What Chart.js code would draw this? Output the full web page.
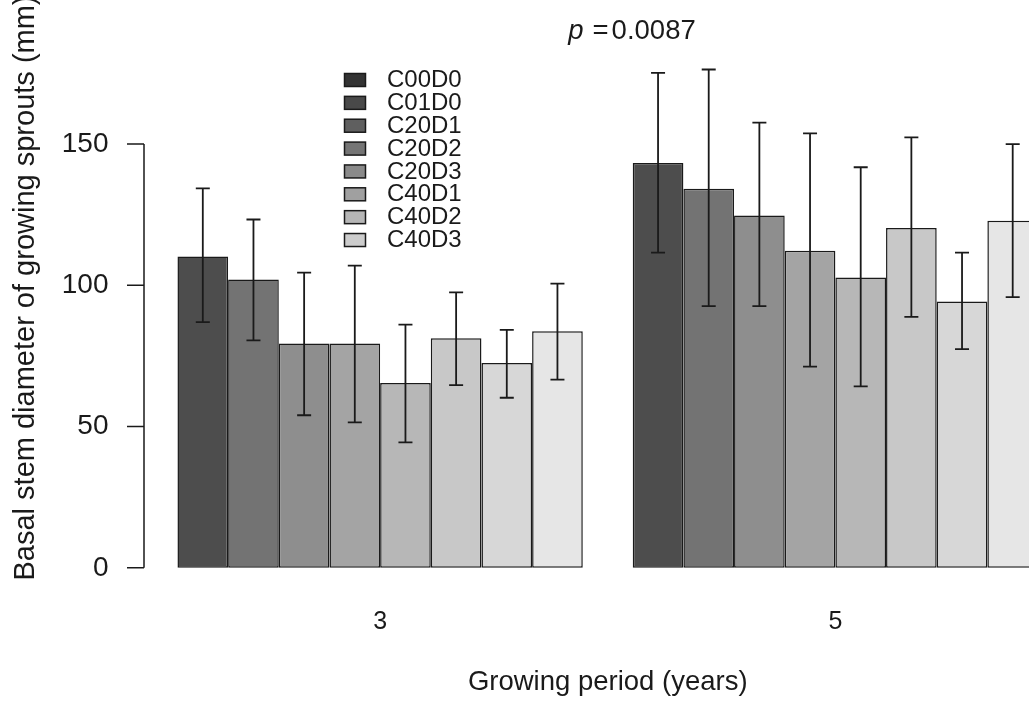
<!DOCTYPE html>
<html>
<head>
<meta charset="utf-8">
<script src="https://cdn.jsdelivr.net/npm/chart.js@4.4.0/dist/chart.umd.min.js"></script>
<style>
  html, body { margin: 0; padding: 0; background: #fff; overflow: hidden; }
</style>
</head>
<body>
<canvas id="chart" width="1063" height="711"></canvas>
<script>
// ---- data ----
const periods = ['3', '5'];
const treatments = ['C00D0', 'C01D0', 'C20D1', 'C20D2', 'C20D3', 'C40D1', 'C40D2', 'C40D3'];

const mean3  = [110.2, 102.1, 79.4, 79.4, 65.4, 81.3, 72.5, 83.7];
const upper3 = [134.3, 123.3, 104.5, 107.0, 86.1, 97.5, 84.2, 100.6];
const lower3 = [87.0, 80.5, 54.0, 51.5, 44.4, 64.7, 60.2, 66.6];

const mean5  = [143.3, 134.2, 124.7, 112.2, 102.8, 120.3, 94.3, 122.9];
const upper5 = [175.2, 176.4, 157.6, 153.8, 141.8, 152.4, 111.6, 150.0];
const lower5 = [111.6, 92.6, 92.6, 71.2, 64.2, 88.8, 77.4, 95.8];

const yTicks = [0, 50, 100, 150];
const pText = '0.0087';

// ---- styles ----
const barColors = ['#4d4d4d', '#737373', '#8e8e8e', '#a4a4a4', '#b7b7b7', '#c8c8c8', '#d7d7d7', '#e6e6e6'];
const legendColors = ['#333333', '#494949', '#5f5f5f', '#757575', '#8a8a8a', '#a0a0a0', '#b6b6b6', '#cccccc'];
const ink = '#1a1a1a';
const fontFamily = '"Liberation Sans", Arial, sans-serif';

const datasets = treatments.map((name, i) => ({
    label: name,
    data: [mean3[i], mean5[i]],
    lower: [lower3[i], lower5[i]],
    upper: [upper3[i], upper5[i]],
    backgroundColor: barColors[i],
    borderColor: ink,
    borderWidth: 1.5,
    borderSkipped: false
}));

// R style y axis: line only across the tick range, set off from the bars
const rAxisPlugin = {
    id: 'rAxis',
    afterDraw(chart) {
        const y = chart.scales.y;
        const ctx = chart.ctx;
        const x0 = chart.chartArea.left - 8.5;
        ctx.save();
        ctx.strokeStyle = ink;
        ctx.lineWidth = 1.5;
        ctx.beginPath();
        ctx.moveTo(x0, y.getPixelForValue(yTicks[0]));
        ctx.lineTo(x0, y.getPixelForValue(yTicks[yTicks.length - 1]));
        yTicks.forEach(v => {
            const py = y.getPixelForValue(v);
            ctx.moveTo(x0, py);
            ctx.lineTo(x0 - 17, py);
        });
        ctx.stroke();
        ctx.restore();
    }
};

// error bars from lower / upper arrays
const errorBarPlugin = {
    id: 'errorBars',
    afterDatasetsDraw(chart) {
        const ctx = chart.ctx;
        const y = chart.scales.y;
        ctx.save();
        ctx.strokeStyle = ink;
        ctx.lineWidth = 1.8;
        chart.data.datasets.forEach((ds, di) => {
            const meta = chart.getDatasetMeta(di);
            meta.data.forEach((bar, i) => {
                const top = y.getPixelForValue(ds.upper[i]);
                const bot = y.getPixelForValue(ds.lower[i]);
                ctx.beginPath();
                ctx.moveTo(bar.x, top);
                ctx.lineTo(bar.x, bot);
                ctx.moveTo(bar.x - 7, top);
                ctx.lineTo(bar.x + 7, top);
                ctx.moveTo(bar.x - 7, bot);
                ctx.lineTo(bar.x + 7, bot);
                ctx.stroke();
            });
        });
        ctx.restore();
    }
};

// legend box inside the plot, like legend("top", fill=...)
const legendPlugin = {
    id: 'rLegend',
    afterDraw(chart) {
        const ctx = chart.ctx;
        ctx.save();
        ctx.font = '24px ' + fontFamily;
        ctx.textBaseline = 'middle';
        chart.data.datasets.forEach((ds, i) => {
            const cy = 80 + i * 22.86;
            ctx.fillStyle = legendColors[i];
            ctx.fillRect(344.5, cy - 6.5, 21, 13);
            ctx.strokeStyle = ink;
            ctx.lineWidth = 1.5;
            ctx.strokeRect(344.5, cy - 6.5, 21, 13);
            ctx.fillStyle = ink;
            ctx.fillText(ds.label, 387, cy + 0.5);
        });
        ctx.restore();
    }
};

// "p = 0.0087" with italic p
const pTitlePlugin = {
    id: 'pTitle',
    afterDraw(chart) {
        const ctx = chart.ctx;
        ctx.save();
        ctx.fillStyle = ink;
        ctx.textBaseline = 'middle';
        const pFont = 'italic 27.5px ' + fontFamily;
        const nFont = '27.5px ' + fontFamily;
        ctx.font = pFont;
        const wp = ctx.measureText('p').width;
        ctx.font = nFont;
        const we = ctx.measureText('=').width;
        const wn = ctx.measureText(pText).width;
        const gap1 = 9, gap2 = 3;
        let x = 632 - (wp + gap1 + we + gap2 + wn) / 2;
        ctx.font = pFont;
        ctx.fillText('p', x, 31);
        x += wp + gap1;
        ctx.font = nFont;
        ctx.fillText('=', x, 31);
        x += we + gap2;
        ctx.fillText(pText, x, 31);
        ctx.restore();
    }
};

new Chart(document.getElementById('chart'), {
    type: 'bar',
    data: { labels: periods, datasets: datasets },
    options: {
        responsive: false,
        animation: false,
        layout: { padding: 0 },
        datasets: {
            bar: { categoryPercentage: 0.8903, barPercentage: 1 }
        },
        plugins: {
            legend: { display: false },
            tooltip: { enabled: false }
        },
        scales: {
            x: {
                grid: { display: false, drawTicks: false },
                border: { display: false },
                ticks: { color: ink, font: { size: 25, family: fontFamily }, padding: 31 },
                title: {
                    display: true,
                    text: 'Growing period (years)',
                    color: ink,
                    font: { size: 27.5, family: fontFamily },
                    padding: { top: 0, bottom: 12 }
                },
                afterFit: s => { s.height = 135; }
            },
            y: {
                min: -2.9,
                max: 201,
                afterBuildTicks: s => { s.ticks = yTicks.map(v => ({ value: v })); },
                grid: { display: false, drawTicks: false },
                border: { display: false },
                ticks: { color: ink, font: { size: 28, family: fontFamily }, padding: 44 },
                title: {
                    display: true,
                    text: 'Basal stem diameter of growing sprouts (mm)',
                    color: ink,
                    font: { size: 29, family: fontFamily },
                    padding: { top: 8.6, bottom: 0 }
                },
                afterFit: s => {
                    s.width = 152.5;
                    s.paddingTop = 0;
                    s.paddingBottom = 0;
                }
            }
        }
    },
    plugins: [rAxisPlugin, errorBarPlugin, legendPlugin, pTitlePlugin]
});
</script>
</body>
</html>
